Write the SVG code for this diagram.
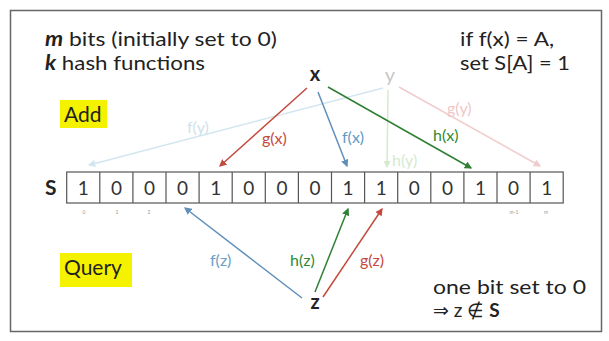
<svg xmlns="http://www.w3.org/2000/svg" width="609" height="341" viewBox="0 0 609 341">
<style>
text{font-family:Lato,"Liberation Sans",sans-serif;fill:#222}
.t{font-size:20px}
.cell{fill:#fff;stroke:#555;stroke-width:1.2}
.d{font-size:19px;text-anchor:middle;fill:#333}
.idx{font-size:5px;text-anchor:middle;fill:#999}
.lbl{font-size:16px}
.a{fill:none;stroke-width:1.5}
.red{stroke:#c44a3e}.blue{stroke:#5f8fba}.green{stroke:#2f7f35}
.lred{stroke:#f1cccc}.lblue{stroke:#d3e6f0}.lgreen{stroke:#d6e9cf}
</style>
<defs>
<marker id="mr" viewBox="0 0 6 6" refX="5" refY="3" markerWidth="5" markerHeight="5" orient="auto"><path d="M0,0L6,3L0,6z" fill="#c44a3e"/></marker>
<marker id="mb" viewBox="0 0 6 6" refX="5" refY="3" markerWidth="5" markerHeight="5" orient="auto"><path d="M0,0L6,3L0,6z" fill="#5f8fba"/></marker>
<marker id="mg" viewBox="0 0 6 6" refX="5" refY="3" markerWidth="5" markerHeight="5" orient="auto"><path d="M0,0L6,3L0,6z" fill="#2f7f35"/></marker>
<marker id="mlr" viewBox="0 0 6 6" refX="5" refY="3" markerWidth="5" markerHeight="5" orient="auto"><path d="M0,0L6,3L0,6z" fill="#f1cccc"/></marker>
<marker id="mlb" viewBox="0 0 6 6" refX="5" refY="3" markerWidth="5" markerHeight="5" orient="auto"><path d="M0,0L6,3L0,6z" fill="#d3e6f0"/></marker>
<marker id="mlg" viewBox="0 0 6 6" refX="5" refY="3" markerWidth="5" markerHeight="5" orient="auto"><path d="M0,0L6,3L0,6z" fill="#d6e9cf"/></marker>
</defs>
<rect x="0" y="0" width="609" height="341" fill="#fff"/>
<rect x="10.5" y="10.5" width="591" height="321" fill="none" stroke="#666" stroke-width="1.5"/>

<g id="header">
<text class="t" x="45" y="46" textLength="232" lengthAdjust="spacingAndGlyphs"><tspan font-weight="bold" font-style="italic">m</tspan> bits (initially set to 0)</text>
<text class="t" x="45" y="70" textLength="160" lengthAdjust="spacingAndGlyphs"><tspan font-weight="bold" font-style="italic">k</tspan> hash functions</text>
</g>
<g id="rule">
<text x="460" y="46" font-size="19" textLength="94" lengthAdjust="spacingAndGlyphs">if f(x) = A,</text>
<text x="460" y="70" font-size="19" textLength="110" lengthAdjust="spacingAndGlyphs">set S[A] = 1</text>
</g>
<g id="add">
<rect x="60" y="100" width="47" height="28" fill="#f5f200"/>
<text x="64" y="122" font-size="21">Add</text>
</g>
<g id="query">
<rect x="60" y="253" width="72" height="34" fill="#f5f200"/>
<text x="64" y="275" font-size="21">Query</text>
</g>

<g id="connectors">
<line class="a lblue" x1="383" y1="88" x2="89" y2="165" marker-end="url(#mlb)"/>
<line class="a lgreen" x1="388" y1="90" x2="387" y2="167" marker-end="url(#mlg)"/>
<line class="a lred" x1="399" y1="87" x2="540" y2="166" marker-end="url(#mlr)"/>
<line class="a red" x1="307" y1="88" x2="220" y2="166" marker-end="url(#mr)"/>
<line class="a blue" x1="318" y1="92" x2="347" y2="166" marker-end="url(#mb)"/>
<line class="a green" x1="328" y1="87" x2="471" y2="168" marker-end="url(#mg)"/>
<line class="a blue" x1="302" y1="298" x2="185" y2="208" marker-end="url(#mb)"/>
<line class="a green" x1="315" y1="292" x2="348" y2="209" marker-end="url(#mg)"/>
<line class="a red" x1="323" y1="297" x2="382" y2="209" marker-end="url(#mr)"/>
<text class="lbl" x="187" y="133" style="fill:#cfe2ec">f(y)</text>
<text class="lbl" x="392" y="166" style="fill:#d6e9cf">h(y)</text>
<text class="lbl" x="447" y="114" style="fill:#efc6c6">g(y)</text>
<text class="lbl" x="262" y="144" style="fill:#c44a3e">g(x)</text>
<text class="lbl" x="342" y="143" style="fill:#5f9ac8">f(x)</text>
<text class="lbl" x="433" y="141" style="fill:#2f8a35">h(x)</text>
<text class="lbl" x="210" y="266" style="fill:#6a9ec6">f(z)</text>
<text class="lbl" x="290" y="266" style="fill:#2f8a35">h(z)</text>
<text class="lbl" x="360" y="266" style="fill:#c44a3e">g(z)</text>
</g>

<g id="x"><text x="315" y="81" font-size="20" font-weight="bold" text-anchor="middle">x</text></g>
<g id="y"><text x="390" y="82" font-size="20" text-anchor="middle" style="fill:#c8c8c8">y</text></g>
<g id="z"><text x="315" y="309" font-size="20" font-weight="bold" text-anchor="middle">z</text></g>

<g id="array">
<text x="45" y="195" font-size="21" font-weight="bold">S</text>
<rect class="cell" x="66.7" y="172" width="496.5" height="31"/>
<g stroke="#555" stroke-width="1.2">
<line x1="99.8" y1="172" x2="99.8" y2="203"/><line x1="132.9" y1="172" x2="132.9" y2="203"/><line x1="166" y1="172" x2="166" y2="203"/><line x1="199.1" y1="172" x2="199.1" y2="203"/><line x1="232.2" y1="172" x2="232.2" y2="203"/><line x1="265.3" y1="172" x2="265.3" y2="203"/><line x1="298.4" y1="172" x2="298.4" y2="203"/><line x1="331.5" y1="172" x2="331.5" y2="203"/><line x1="364.6" y1="172" x2="364.6" y2="203"/><line x1="397.7" y1="172" x2="397.7" y2="203"/><line x1="430.8" y1="172" x2="430.8" y2="203"/><line x1="463.9" y1="172" x2="463.9" y2="203"/><line x1="497" y1="172" x2="497" y2="203"/><line x1="530.1" y1="172" x2="530.1" y2="203"/>
</g>
<text class="d" x="83.3" y="195">1</text><text class="d" x="116.4" y="195">0</text><text class="d" x="149.5" y="195">0</text><text class="d" x="182.6" y="195">0</text><text class="d" x="215.7" y="195">1</text><text class="d" x="248.8" y="195">0</text><text class="d" x="281.9" y="195">0</text><text class="d" x="315" y="195">0</text><text class="d" x="348.1" y="195">1</text><text class="d" x="381.2" y="195">1</text><text class="d" x="414.3" y="195">0</text><text class="d" x="447.4" y="195">0</text><text class="d" x="480.5" y="195">1</text><text class="d" x="513.6" y="195">0</text><text class="d" x="546.7" y="195">1</text>
<text class="idx" x="84" y="214">0</text><text class="idx" x="117" y="214">1</text><text class="idx" x="149" y="214">2</text><text class="idx" x="514" y="214">m-1</text><text class="idx" x="546" y="214">m</text>
</g>

<g id="conclusion">
<text x="433" y="294" font-size="19" textLength="153" lengthAdjust="spacingAndGlyphs">one bit set to 0</text>
<text x="433" y="317" font-size="19">⇒ z ∉ <tspan font-weight="bold">S</tspan></text>
</g>
</svg>
